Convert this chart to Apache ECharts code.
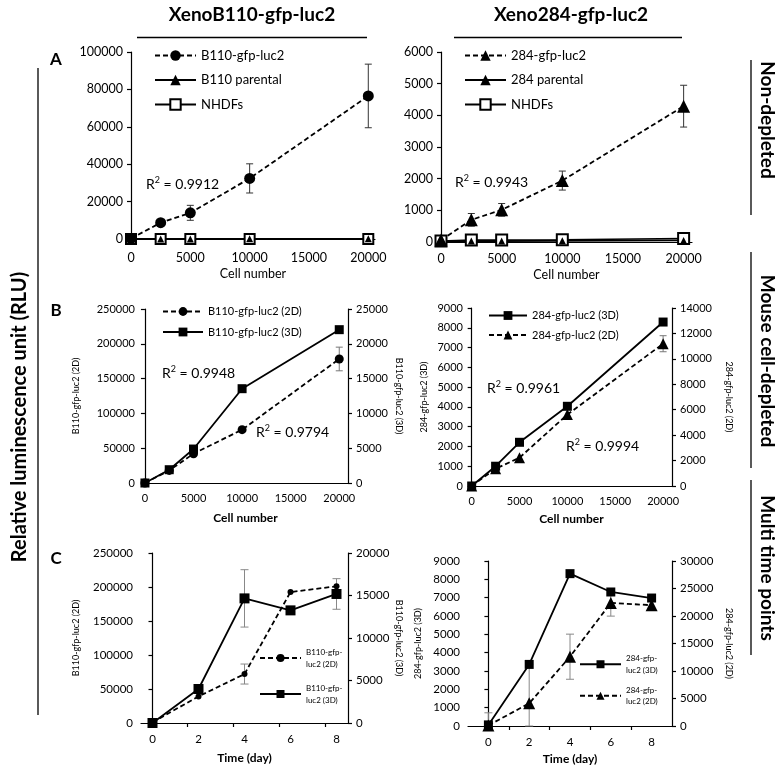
<!DOCTYPE html>
<html><head><meta charset="utf-8">
<script src="https://cdn.jsdelivr.net/npm/echarts@6/dist/echarts.min.js"></script>
<style>html,body{margin:0;padding:0;background:#fff}#c{width:778px;height:768px}</style>
</head><body><div id="c"></div>
<script>
const FONT = 'Lato';
// shared x values and tick labels
const cellNumbers = [0, 2500, 5000, 10000, 20000];
const cellTickLabels = [0, 5000, 10000, 15000, 20000];
const dayValues = [0, 2, 4, 6, 8];
const dayTickLabels = [0, 2, 4, 6, 8];
const dayTickMarksLeft = [1.5, 3.5, 5.5, 7.5];
const dayTickMarksRight = [1, 3, 5, 7];

// Panel A, left (XenoB110)
const aLeftGfp = [300, 8700, 14000, 32400, 76500];
const aLeftGfpErr = [0, 800, 4000, 7800, 17000];
const aLeftParental = [0, 50, 50, 80, 100];
const aLeftNhdf = [0, 0, 0, 0, 0];
// Panel A, right (Xeno284)
const aRightGfp = [60, 700, 1015, 1940, 4290];
const aRightGfpErr = [0, 200, 200, 300, 660];
const aRightParental = [20, 30, 30, 40, 50];
const aRightNhdf = [30, 60, 60, 70, 110];
// Panel B, left
const bLeft2D = [0, 18100, 42100, 76600, 178200];
const bLeft2DErr = [0, 0, 0, 0, 17000];
const bLeft3D = [0, 1910, 4880, 13550, 22030];
// Panel B, right
const bRight3D = [0, 1000, 2210, 4030, 8290];
const bRight2D = [0, 1360, 2230, 5620, 11190];
const bRight2DErr = [0, 0, 0, 0, 630];
// Panel C, left
const cLeft2D = [1000, 39100, 72000, 192600, 201000];
const cLeft2DErr = [0, 0, 14700, 0, 0];
const cLeft3D = [0, 4000, 14660, 13250, 15180];
const cLeft3DErr = [0, 0, 3375, 0, 1800];
// Panel C, right
const cRight3D = [60, 3360, 8310, 7310, 6980];
const cRight3DErr = [660, 0, 0, 0, 0];
const cRight2D = [100, 4120, 12600, 22380, 21960];
const cRight2DErr = [0, 7100, 4100, 2400, 0];

const pts = (xs, ys) => xs.map((x, i) => [x, ys[i]]);
const errPts = (xs, ys, es) => xs.map((x, i) => [x, ys[i] - es[i], ys[i] + es[i]]).filter((d, i) => es[i] > 0);
const plain = v => String(v);

const grids = [
  {left: 131, top: 52, width: 244, height: 187},
  {left: 441, top: 52, width: 251, height: 190},
  {left: 143, top: 309, width: 205, height: 174},
  {left: 471, top: 308, width: 201, height: 178},
  {left: 141, top: 553, width: 207, height: 170},
  {left: 468, top: 561, width: 204, height: 165}
].map(g => Object.assign({outerBoundsMode: 'none', containLabel: false}, g));

const AX = {color: '#000', width: 1.2};
function xAx(grid, min, max, labels, ticks, fs, margin, name, nameGap, nameBold) {
  return {
    type: 'value', gridIndex: grid, min, max,
    axisLine: {show: true, onZero: false, lineStyle: AX},
    axisTick: ticks ? {show: true, customValues: ticks, length: 4, lineStyle: AX} : {show: false},
    axisLabel: {customValues: labels, formatter: plain, fontSize: fs, color: '#000', margin, fontFamily: FONT},
    splitLine: {show: false},
    name, nameLocation: 'middle', nameGap,
    nameTextStyle: {fontSize: nameBold ? 12 : 12.5, fontWeight: nameBold ? 'bold' : 'normal', color: '#000', fontFamily: FONT}
  };
}
function yAx(grid, pos, max, interval, fs, name, nameGap, nameRotate) {
  return {
    type: 'value', gridIndex: grid, position: pos, min: 0, max, interval,
    axisLine: {show: true, lineStyle: AX},
    axisTick: {show: true, length: 4, lineStyle: AX},
    axisLabel: {formatter: plain, fontSize: fs, color: '#000', margin: 8, fontFamily: FONT},
    splitLine: {show: false},
    name, nameLocation: 'middle', nameGap, nameRotate,
    nameTextStyle: {fontSize: 9, color: '#000', fontFamily: FONT}
  };
}

const xAxis = [
  xAx(0, 0, 20565, cellTickLabels, null, 12.5, 12, 'Cell number', 28, false),
  xAx(1, 0, 20690, cellTickLabels, null, 12.5, 10, 'Cell number', 26, false),
  xAx(2, -200, 20900, cellTickLabels, null, 11, 10, 'Cell number', 29, true),
  xAx(3, -70, 20930, cellTickLabels, null, 11, 10, 'Cell number', 27, true),
  xAx(4, -0.5, 8.5, dayTickLabels, dayTickMarksLeft, 11.5, 10, 'Time (day)', 29, true),
  xAx(5, -1, 9, dayTickLabels, dayTickMarksRight, 11.5, 10, 'Time (day)', 27, true)
];
const yAxis = [
  yAx(0, 'left', 100000, 20000, 12.5, '', 0, 90),
  yAx(1, 'left', 6000, 1000, 12.5, '', 0, 90),
  yAx(2, 'left', 250000, 50000, 11, 'B110-gfp-luc2 (2D)', 62, 90),
  yAx(2, 'right', 25000, 5000, 11, 'B110-gfp-luc2 (3D)', 46, -90),
  yAx(3, 'left', 9000, 1000, 11, '284-gfp-luc2 (3D)', 42, 90),
  yAx(3, 'right', 14000, 2000, 11, '284-gfp-luc2 (2D)', 52, -90),
  yAx(4, 'left', 250000, 50000, 11.5, 'B110-gfp-luc2 (2D)', 60, 90),
  yAx(4, 'right', 20000, 5000, 11.5, 'B110-gfp-luc2 (3D)', 46, -90),
  yAx(5, 'left', 9000, 1000, 11.5, '284-gfp-luc2 (3D)', 45, 90),
  yAx(5, 'right', 30000, 5000, 11.5, '284-gfp-luc2 (2D)', 52, -90)
];

function line(name, xi, yi, data, symbol, size, dashed, width) {
  return {
    type: 'line', name, xAxisIndex: xi, yAxisIndex: yi, data, symbol, symbolSize: size,
    z: 3, clip: false,
    lineStyle: {color: '#000', width: width || 1.8, type: dashed ? [5, 3] : 'solid'},
    itemStyle: {color: '#000', borderColor: '#000', borderWidth: symbol.indexOf('empty') === 0 ? 1.4 : 0},
    emphasis: {disabled: true}
  };
}
function errBars(xi, yi, data, color, cap) {
  return {
    type: 'custom', name: 'err' + xi + '_' + yi, xAxisIndex: xi, yAxisIndex: yi, z: 2, data,
    encode: {x: 0, y: [1, 2]},
    renderItem: function (params, api) {
      const x = api.value(0);
      const lo = Math.max(api.value(1), 0), hi = api.value(2);
      const p1 = api.coord([x, lo]), p2 = api.coord([x, hi]);
      const st = {stroke: color, lineWidth: 1};
      return {type: 'group', children: [
        {type: 'line', shape: {x1: p1[0], y1: p1[1], x2: p2[0], y2: p2[1]}, style: st},
        {type: 'line', shape: {x1: p1[0] - cap, y1: p1[1], x2: p1[0] + cap, y2: p1[1]}, style: st},
        {type: 'line', shape: {x1: p2[0] - cap, y1: p2[1], x2: p2[0] + cap, y2: p2[1]}, style: st}
      ]};
    }
  };
}

const series = [
  // A left
  line('NHDFs', 0, 0, pts(cellNumbers, aLeftNhdf), 'emptyRect', 10, false, 1.6),
  line('B110 parental', 0, 0, pts(cellNumbers, aLeftParental), 'triangle', 7, false, 1.8),
  errBars(0, 0, errPts(cellNumbers, aLeftGfp, aLeftGfpErr), '#333', 3.5),
  line('B110-gfp-luc2', 0, 0, pts(cellNumbers, aLeftGfp), 'circle', 11, true, 1.8),
  // A right
  line('NHDFs', 1, 1, pts(cellNumbers, aRightNhdf), 'emptyRect', 11, false, 1.6),
  line('284 parental', 1, 1, pts(cellNumbers, aRightParental), 'triangle', 7, false, 1.8),
  errBars(1, 1, errPts(cellNumbers, aRightGfp, aRightGfpErr), '#333', 3.5),
  line('284-gfp-luc2', 1, 1, pts(cellNumbers, aRightGfp), 'triangle', 13, true, 1.8),
  // B left
  errBars(2, 2, errPts(cellNumbers, bLeft2D, bLeft2DErr), '#777', 3.5),
  line('B110-gfp-luc2 (2D)', 2, 2, pts(cellNumbers, bLeft2D), 'circle', 9, true, 1.8),
  line('B110-gfp-luc2 (3D)', 2, 3, pts(cellNumbers, bLeft3D), 'rect', 9, false, 1.8),
  // B right
  line('284-gfp-luc2 (3D)', 3, 4, pts(cellNumbers, bRight3D), 'rect', 9, false, 1.8),
  errBars(3, 5, errPts(cellNumbers, bRight2D, bRight2DErr), '#777', 3.5),
  line('284-gfp-luc2 (2D)', 3, 5, pts(cellNumbers, bRight2D), 'triangle', 11, true, 1.8),
  // C left
  errBars(4, 6, errPts(dayValues, cLeft2D, cLeft2DErr), '#888', 4),
  line('B110-gfp-\nluc2 (2D)', 4, 6, pts(dayValues, cLeft2D), 'circle', 6, true, 1.8),
  errBars(4, 7, errPts(dayValues, cLeft3D, cLeft3DErr), '#888', 4),
  line('B110-gfp-\nluc2 (3D)', 4, 7, pts(dayValues, cLeft3D), 'rect', 10, false, 1.8),
  // C right
  errBars(5, 8, errPts(dayValues, cRight3D, cRight3DErr), '#888', 4),
  line('284-gfp-\nluc2 (3D)', 5, 8, pts(dayValues, cRight3D), 'rect', 9, false, 1.8),
  errBars(5, 9, errPts(dayValues, cRight2D, cRight2DErr), '#888', 4),
  line('284-gfp-\nluc2 (2D)', 5, 9, pts(dayValues, cRight2D), 'triangle', 12, true, 1.8)
];

function lg(data, left, top, itemWidth, itemHeight, itemGap, textStyle) {
  return {
    data, left, top, orient: 'vertical', itemWidth, itemHeight, itemGap, selectedMode: false,
    padding: 0, textStyle: Object.assign({color: '#000', fontFamily: FONT}, textStyle)
  };
}
const legend = [
  lg(['B110-gfp-luc2', 'B110 parental', 'NHDFs'], 154, 49, 41, 13, 11.5, {fontSize: 13}),
  lg(['284-gfp-luc2', '284 parental', 'NHDFs'], 464, 49, 41, 13, 11.5, {fontSize: 13}),
  lg(['B110-gfp-luc2 (2D)', 'B110-gfp-luc2 (3D)'], 162, 306, 40, 11, 9.5, {fontSize: 11}),
  lg(['284-gfp-luc2 (3D)', '284-gfp-luc2 (2D)'], 488, 310, 38, 11, 8.5, {fontSize: 11}),
  lg(['B110-gfp-\nluc2 (2D)', 'B110-gfp-\nluc2 (3D)'], 259, 640, 41, 10, 0, {fontSize: 8, lineHeight: 12, padding: [12, 0, 0, 0]}),
  lg(['284-gfp-\nluc2 (3D)', '284-gfp-\nluc2 (2D)'], 579, 647, 41, 10, -3, {fontSize: 8, lineHeight: 11.5, padding: [11.5, 0, 0, 0]})
];

function txt(text, x, y, size, bold, rotation) {
  return {type: 'text', x, y, rotation: rotation || 0, silent: true,
    style: {text, fontSize: size, fontWeight: bold ? 'bold' : 'normal', fontFamily: FONT, fill: '#000', align: 'center', verticalAlign: 'middle'}};
}
function r2(value, x, y) {
  return {type: 'text', x, y, silent: true,
    style: {text: '{a|R}{b|2}{a| = ' + value + '}', align: 'left', verticalAlign: 'middle',
      rich: {a: {fontSize: 14, fontFamily: FONT, fill: '#000', lineHeight: 16},
             b: {fontSize: 9, fontFamily: FONT, fill: '#000', verticalAlign: 'top', lineHeight: 16}}}};
}
function ln(x1, y1, x2, y2) {
  return {type: 'line', silent: true, shape: {x1, y1, x2, y2}, style: {stroke: '#000', lineWidth: 1.3}};
}
const graphic = [
  txt('XenoB110-gfp-luc2', 252, 15, 19, true),
  txt('Xeno284-gfp-luc2', 571, 15, 19, true),
  ln(137, 37.5, 367, 37.5),
  ln(454, 37.5, 682, 37.5),
  ln(38, 68, 38, 715),
  txt('Relative luminescence unit (RLU)', 20, 417, 20, true, Math.PI / 2),
  txt('A', 56, 60, 17, true),
  txt('B', 56, 311, 17, true),
  txt('C', 56, 559, 17, true),
  ln(751, 60, 751, 215),
  ln(751, 252, 751, 468),
  ln(751, 480, 751, 655),
  txt('Non-depleted', 767, 120, 19, true, -Math.PI / 2),
  txt('Mouse cell-depleted', 767, 361, 19, true, -Math.PI / 2),
  txt('Multi time points', 767, 568, 19, true, -Math.PI / 2),
  r2('0.9912', 146, 184),
  r2('0.9943', 455, 182),
  r2('0.9948', 162, 373),
  r2('0.9794', 256, 432),
  r2('0.9961', 487, 388),
  r2('0.9994', 566, 446)
];

const chart = echarts.init(document.getElementById('c'), null, {renderer: 'canvas'});
chart.setOption({
  animation: false,
  backgroundColor: '#fff',
  textStyle: {fontFamily: FONT},
  grid: grids, xAxis, yAxis, series, legend, graphic
});
</script></body></html>
